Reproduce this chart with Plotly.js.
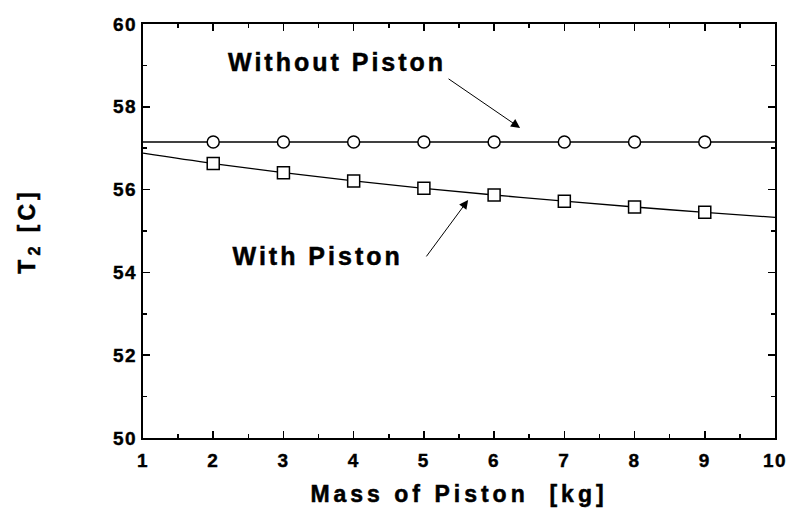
<!DOCTYPE html>
<html>
<head>
<meta charset="utf-8">
<script src="https://cdn.plot.ly/plotly-3.0.1.min.js"></script>
<style>
html,body{margin:0;padding:0;background:#fff;}
#chart{width:790px;height:520px;}
#chart .annotation-text{letter-spacing:3px;stroke:#000;stroke-width:0.5px;}
#chart .xtitle,#chart .ytitle{letter-spacing:4px;stroke:#000;stroke-width:0.5px;}
#chart .xtick text,#chart .ytick text{letter-spacing:1.5px;stroke:#000;stroke-width:0.4px;}
</style>
</head>
<body>
<div id="chart"></div>
<script>
const massLine = [1, 2, 3, 4, 5, 6, 7, 8, 9, 10];
const withPistonLine = [56.88, 56.63, 56.41, 56.21, 56.03, 55.87, 55.72, 55.58, 55.45, 55.33];
const withoutPistonLine = [57.15, 57.15, 57.15, 57.15, 57.15, 57.15, 57.15, 57.15, 57.15, 57.15];
const massMarkers = [2, 3, 4, 5, 6, 7, 8, 9];
const withPistonMarkers = [56.63, 56.41, 56.21, 56.03, 55.87, 55.72, 55.58, 55.45];
const withoutPistonMarkers = [57.15, 57.15, 57.15, 57.15, 57.15, 57.15, 57.15, 57.15];

const font = 'Arial, "Liberation Sans", sans-serif';
const data = [
  {x: massLine, y: withoutPistonLine, mode: 'lines', line: {color: '#000', width: 1.3, shape: 'spline'}, hoverinfo: 'skip'},
  {x: massLine, y: withPistonLine, mode: 'lines', line: {color: '#000', width: 1.3, shape: 'spline'}, hoverinfo: 'skip'},
  {x: massMarkers, y: withoutPistonMarkers, mode: 'markers', marker: {symbol: 'circle', size: 12, color: '#fff', line: {color: '#000', width: 1.5}}},
  {x: massMarkers, y: withPistonMarkers, mode: 'markers', marker: {symbol: 'square', size: 12, color: '#fff', line: {color: '#000', width: 1.5}}}
];
const axisCommon = {
  showgrid: false, zeroline: false, showline: true, linecolor: '#000', linewidth: 2,
  mirror: 'ticks', ticks: 'inside', ticklen: 7, tickwidth: 1.5, tickcolor: '#000',
  tickfont: {family: font, size: 19, color: '#000', weight: 'bold'}
};
const layout = {
  width: 790, height: 520,
  margin: {l: 143, r: 15, t: 24, b: 82},
  paper_bgcolor: '#fff', plot_bgcolor: '#fff',
  showlegend: false,
  font: {family: font, color: '#000'},
  xaxis: Object.assign({}, axisCommon, {
    range: [1, 10], dtick: 1, tick0: 1, ticklabelstandoff: 4,
    minor: {dtick: 0.5, ticks: 'inside', ticklen: 4, tickwidth: 1.5, tickcolor: '#000'},
    title: {text: 'Mass of Piston  [kg]', font: {family: font, size: 23, color: '#000', weight: 'bold'}, standoff: 16}
  }),
  yaxis: Object.assign({}, axisCommon, {
    range: [50, 60], dtick: 2, tick0: 50,
    minor: {dtick: 1, ticks: 'inside', ticklen: 4, tickwidth: 1.5, tickcolor: '#000'},
    title: {text: 'T<sub>2</sub> [C]', font: {family: font, size: 23, color: '#000', weight: 'bold'}, standoff: 74}
  }),
  annotations: [
    {x: 3.76, y: 59.08, xref: 'x', yref: 'y', text: 'Without Piston', showarrow: false,
     font: {family: font, size: 25, color: '#000', weight: 'bold'}},
    {x: 3.49, y: 54.40, xref: 'x', yref: 'y', text: 'With Piston', showarrow: false,
     font: {family: font, size: 25, color: '#000', weight: 'bold'}},
    {x: 6.37, y: 57.49, ax: 5.33, ay: 58.70, xref: 'x', yref: 'y', axref: 'x', ayref: 'y',
     text: '', showarrow: true, arrowhead: 2, arrowsize: 1.8, arrowwidth: 1, arrowcolor: '#000'},
    {x: 5.63, y: 55.75, ax: 5.02, ay: 54.35, xref: 'x', yref: 'y', axref: 'x', ayref: 'y',
     text: '', showarrow: true, arrowhead: 2, arrowsize: 1.8, arrowwidth: 1, arrowcolor: '#000'}
  ]
};
Plotly.newPlot('chart', data, layout, {staticPlot: true, displayModeBar: false});
</script>
</body>
</html>
